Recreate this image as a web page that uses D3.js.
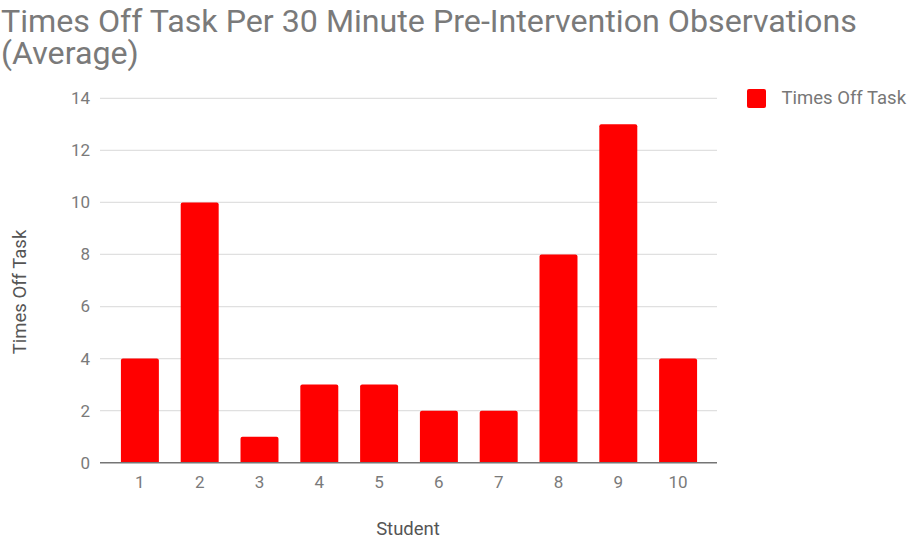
<!DOCTYPE html>
<html>
<head>
<meta charset="utf-8">
<script src="https://cdn.jsdelivr.net/npm/d3@7"></script>
<style>
  html, body { margin: 0; padding: 0; background: #fff; }
  svg { display: block; }
  text { font-family: Roboto, "Open Sans", sans-serif; }
</style>
</head>
<body>
<svg id="chart" width="913" height="541"></svg>
<script>
// Data
const students = ["1", "2", "3", "4", "5", "6", "7", "8", "9", "10"];
const timesOffTask = [4, 10, 1, 3, 3, 2, 2, 8, 13, 4];
const yTicks = [0, 2, 4, 6, 8, 10, 12, 14];
const titleLines = ["Times Off Task Per 30 Minute Pre-Intervention Observations", "(Average)"];
const seriesName = "Times Off Task";
const xTitle = "Student";
const yTitle = "Times Off Task";

const svg = d3.select("#chart");
const plot = { left: 100, right: 717, top: 98.3, bottom: 462.7 };
const barColor = "#ff0000";
const textGray = "#7a7a7a";

const y = d3.scaleLinear().domain([0, 14]).range([plot.bottom, plot.top]);
const x = d3.scaleBand()
  .domain(students)
  .range([110, 708])
  .paddingInner(0.365)
  .paddingOuter(0.1825);

// Title: one text element, wrapped onto two lines
const title = svg.append("text")
  .attr("fill", textGray).attr("font-size", 32.2)
  .attr("x", 1).attr("y", 31.5);
title.selectAll("tspan")
  .data(titleLines)
  .join("tspan")
  .attr("x", 1)
  .attr("dy", (d, i) => i === 0 ? 0 : 32)
  .text(d => d);

// Gridlines
svg.append("g")
  .selectAll("line")
  .data(yTicks.filter(d => d !== 0))
  .join("line")
  .attr("x1", plot.left).attr("x2", plot.right)
  .attr("y1", d => y(d)).attr("y2", d => y(d))
  .attr("stroke", "#e0e0e0").attr("stroke-width", 1.2);

// Y axis labels
const yAxis = svg.append("g")
  .attr("transform", `translate(${plot.left},0)`)
  .call(d3.axisLeft(y).tickValues(yTicks).tickSize(0).tickPadding(10));
yAxis.select(".domain").remove();
yAxis.selectAll("text").attr("fill", textGray).attr("font-size", 17).attr("font-family", "Roboto, sans-serif");

// Bars with slightly rounded tops
const r = 2;
svg.append("g")
  .selectAll("path")
  .data(students.map((s, i) => ({ s, v: timesOffTask[i] })))
  .join("path")
  .attr("fill", barColor)
  .attr("d", d => {
    const x0 = x(d.s), x1 = x0 + x.bandwidth();
    const yt = y(d.v), yb = y(0);
    return `M${x0},${yb}V${yt + r}Q${x0},${yt} ${x0 + r},${yt}H${x1 - r}Q${x1},${yt} ${x1},${yt + r}V${yb}Z`;
  });

// Baseline
svg.append("line")
  .attr("x1", plot.left).attr("x2", plot.right)
  .attr("y1", y(0)).attr("y2", y(0))
  .attr("stroke", "#757575").attr("stroke-width", 1.6);

// X axis labels
const xAxis = svg.append("g")
  .attr("transform", `translate(0,${plot.bottom})`)
  .call(d3.axisBottom(x).tickSize(0).tickPadding(13));
xAxis.select(".domain").remove();
xAxis.selectAll("text").attr("fill", textGray).attr("font-size", 17).attr("font-family", "Roboto, sans-serif");

// Axis titles
svg.append("text")
  .attr("x", 408).attr("y", 535)
  .attr("text-anchor", "middle")
  .attr("fill", "#555").attr("font-size", 18.5)
  .text(xTitle);

svg.append("text")
  .attr("transform", "translate(26,292) rotate(-90)")
  .attr("text-anchor", "middle")
  .attr("fill", "#555").attr("font-size", 18.5)
  .text(yTitle);

// Legend
const legend = svg.append("g").attr("transform", "translate(747,89)");
legend.append("rect").attr("width", 19).attr("height", 19).attr("rx", 2).attr("fill", barColor);
legend.append("text").attr("x", 34.5).attr("y", 14.5)
  .attr("fill", "#777").attr("font-size", 18.5).text(seriesName);
</script>
</body>
</html>
